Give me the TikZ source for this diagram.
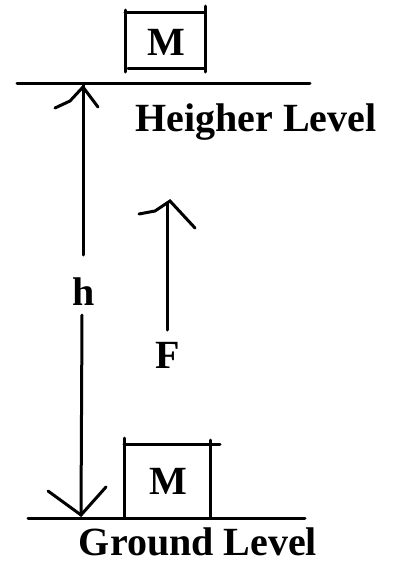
\documentclass[tikz,border=0pt]{standalone}
\usepackage{fontspec}
\setmainfont{Liberation Serif}
\begin{document}
\begin{tikzpicture}[x=1pt,y=-1pt,
  ln/.style={line width=3pt,line cap=round},
  lbl/.style={font=\bfseries\fontsize{40}{42}\selectfont,inner sep=0pt,anchor=base}]
\useasboundingbox (0,0) rectangle (395,563);
% levels
\coordinate (hl1) at (17,83); \coordinate (hl2) at (310,83);
\coordinate (gl1) at (28,518); \coordinate (gl2) at (305,518);
\draw[ln] (hl1) -- (hl2);
\draw[ln] (gl1) -- (gl2);
% top box
\draw[ln] (125,10) -- (125,72);
\draw[ln] (125,12) -- (204,12);
\draw[ln] (205,6) -- (205,72);
\draw[ln] (128,68) -- (205,68);
\node[lbl] (mtop) at (166,55) {M};
% bottom box
\draw[ln] (124,438) -- (124,518);
\draw[ln] (124,444) -- (220,444);
\draw[ln] (210,440) -- (210,518);
\node[lbl] (mbot) at (168,494) {M};
% labels
\node[lbl] (hlev) at (256,131) {Heigher Level};
\node[lbl,text depth=0pt] (glev) at (198,555) {Ground Level};
\node[lbl] (h) at (84,305) {h};
\node[lbl] (f) at (168,368) {F};
% h arrow
\coordinate (htop) at (83,85);
\coordinate (hbot) at (81,515);
\draw[ln] (htop) -- (83,255);
\draw[ln] (82,315) -- (hbot);
\draw[ln] (55,108) -- (70,101) -- (83,87) -- (98,107);
\draw[ln] (48,491) -- (hbot) -- (106,487);
% F arrow
\coordinate (ftop) at (167,203);
\coordinate (fbot) at (167,330);
\draw[ln] (fbot) -- (ftop);
\draw[ln] (139,214) -- (155,211) -- (170,201) -- (195,228);
\end{tikzpicture}
\end{document}
